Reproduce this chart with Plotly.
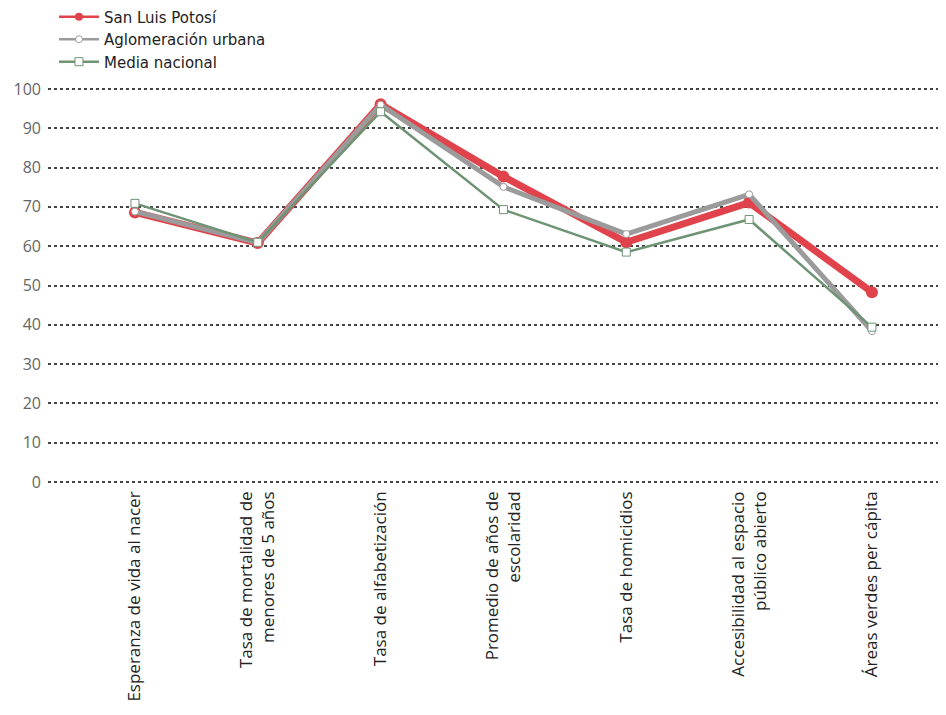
import plotly.graph_objects as go

categories = [
    "Esperanza de vida al nacer",
    "Tasa de mortalidad de<br>menores de 5 años",
    "Tasa de alfabetización",
    "Promedio de años de<br>escolaridad",
    "Tasa de homicidios",
    "Accesibilidad al espacio<br>público abierto",
    "Áreas verdes per cápita",
]
san_luis = [68.6, 60.8, 96.1, 77.7, 61.0, 71.1, 48.3]
aglomeracion = [68.8, 60.9, 96.0, 75.1, 63.1, 73.2, 38.4]
media_nacional = [70.9, 61.0, 94.2, 69.3, 58.5, 66.8, 39.4]
y_ticks = [0, 10, 20, 30, 40, 50, 60, 70, 80, 90, 100]

RED = "#E0434B"
GRAY = "#9B9B9B"
GREEN = "#6E9474"

series = [
    ("San Luis Potosí", san_luis, RED, 7, dict(symbol="circle", size=12, color=RED, line=dict(width=0)),
     dict(symbol="circle", size=8, color=RED, line=dict(width=0))),
    ("Aglomeración urbana", aglomeracion, GRAY, 5, dict(symbol="circle", size=7, color="white", line=dict(color=GRAY, width=1)),
     dict(symbol="circle", size=7, color="white", line=dict(color=GRAY, width=1))),
    ("Media nacional", media_nacional, GREEN, 2.5, dict(symbol="square", size=8, color="white", line=dict(color=GREEN, width=1)),
     dict(symbol="square", size=8, color="white", line=dict(color=GREEN, width=1))),
]

fig = go.Figure()
for name, vals, col, w, mk, lmk in series:
    fig.add_trace(go.Scatter(
        x=categories, y=vals, name=name, mode="lines+markers",
        line=dict(color=col, width=w), marker=mk, showlegend=False,
    ))
for name, vals, col, w, mk, lmk in series:
    fig.add_trace(go.Scatter(
        x=[None], y=[None], name=name, mode="lines+markers",
        line=dict(color=col, width=2.5), marker=lmk, showlegend=True,
    ))

fig.update_layout(
    width=946, height=715,
    paper_bgcolor="white", plot_bgcolor="white",
    margin=dict(l=40, r=0, t=79, b=239, autoexpand=False),
    font=dict(family="Open Sans", color="#222"),
    showlegend=True,
    legend=dict(
        xref="paper", yref="paper", x=0.0066, y=1.218,
        xanchor="left", yanchor="top",
        font=dict(size=15, color="#222", family="DejaVu Sans"),
        bgcolor="rgba(0,0,0,0)", tracegroupgap=0, itemwidth=40,
    ),
    xaxis=dict(
        type="category", range=[-0.708, 6.668], automargin=False,
        showgrid=False, zeroline=False, showline=False,
        ticks="", tickangle=-90,
        tickfont=dict(size=17, color="#222", family="Open Sans"),
        ticklabelstandoff=3,
    ),
    yaxis=dict(
        range=[-0.5, 100.5], tickvals=y_ticks, automargin=False,
        showgrid=True, gridcolor="#444", griddash="dot", gridwidth=2,
        zeroline=False, showline=False, ticks="",
        tickfont=dict(size=16, color="#666666", family="Open Sans"),
        ticklabelstandoff=6,
    ),
)

fig.write_html("out.html")
